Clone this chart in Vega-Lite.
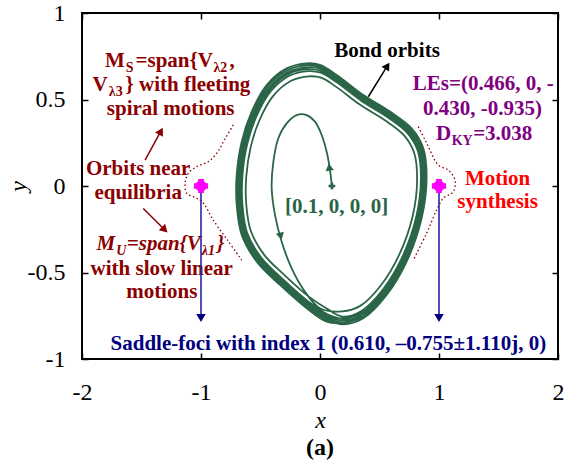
{
  "$schema": "https://vega.github.io/schema/vega-lite/v6.json",
  "width": 476,
  "height": 346,
  "autosize": {"type": "none"},
  "padding": {"left": 82, "top": 13, "right": 7, "bottom": 107},
  "background": "white",
  "title": {"text": "(a)", "orient": "bottom", "font": "Liberation Serif", "fontSize": 24, "fontWeight": "bold", "color": "black", "anchor": "middle", "offset": 4},
  "config": {
    "view": {"stroke": "black", "strokeWidth": 2},
    "axis": {
      "grid": false, "domain": false, "ticks": true, "tickColor": "black", "tickWidth": 1.5, "tickSize": -6,
      "labelFont": "Liberation Serif", "labelFontSize": 24, "labelColor": "black", "labelFlush": false, "labelOverlap": false,
      "titleFont": "Liberation Serif", "titleFontSize": 24, "titleFontWeight": "normal", "titleFontStyle": "italic", "titleColor": "black"
    },
    "text": {"font": "Liberation Serif", "fontWeight": "bold", "fontSize": 21, "baseline": "alphabetic"}
  },
  "datasets": {
    "orbit": [
      {"i": 0, "x": 0.1, "y": 0.0}, {"i": 1, "x": 0.09, "y": 0.06}, {"i": 2, "x": 0.078, "y": 0.121}, {"i": 3, "x": 0.056, "y": 0.198},
      {"i": 4, "x": 0.014, "y": 0.295}, {"i": 5, "x": -0.042, "y": 0.372}, {"i": 6, "x": -0.112, "y": 0.41}, {"i": 7, "x": -0.196, "y": 0.41},
      {"i": 8, "x": -0.28, "y": 0.362}, {"i": 9, "x": -0.35, "y": 0.276}, {"i": 10, "x": -0.392, "y": 0.14}, {"i": 11, "x": -0.406, "y": -0.013},
      {"i": 12, "x": -0.378, "y": -0.168}, {"i": 13, "x": -0.322, "y": -0.322}, {"i": 14, "x": -0.238, "y": -0.476}, {"i": 15, "x": -0.126, "y": -0.611},
      {"i": 16, "x": 0.0, "y": -0.707},
      {"i": 17, "x": 0.186, "y": -0.725}, {"i": 18, "x": 0.338, "y": -0.693}, {"i": 19, "x": 0.514, "y": -0.572}, {"i": 20, "x": 0.665, "y": -0.398},
      {"i": 21, "x": 0.779, "y": -0.173}, {"i": 22, "x": 0.816, "y": 0.036}, {"i": 23, "x": 0.791, "y": 0.192}, {"i": 24, "x": 0.703, "y": 0.295},
      {"i": 25, "x": 0.539, "y": 0.383}, {"i": 26, "x": 0.338, "y": 0.469}, {"i": 27, "x": 0.136, "y": 0.573}, {"i": 28, "x": 0.01, "y": 0.626},
      {"i": 29, "x": -0.091, "y": 0.634}, {"i": 30, "x": -0.242, "y": 0.608}, {"i": 31, "x": -0.393, "y": 0.521}, {"i": 32, "x": -0.507, "y": 0.383},
      {"i": 33, "x": -0.582, "y": 0.226}, {"i": 34, "x": -0.62, "y": 0.053}, {"i": 35, "x": -0.62, "y": -0.104}, {"i": 36, "x": -0.582, "y": -0.259},
      {"i": 37, "x": -0.469, "y": -0.398}, {"i": 38, "x": -0.292, "y": -0.519}, {"i": 39, "x": -0.091, "y": -0.641}, {"i": 40, "x": 0.06, "y": -0.71},
      {"i": 41, "x": 0.19, "y": -0.755}, {"i": 42, "x": 0.348, "y": -0.722}, {"i": 43, "x": 0.532, "y": -0.595}, {"i": 44, "x": 0.69, "y": -0.413},
      {"i": 45, "x": 0.809, "y": -0.178}, {"i": 46, "x": 0.848, "y": 0.04}, {"i": 47, "x": 0.822, "y": 0.202}, {"i": 48, "x": 0.73, "y": 0.31},
      {"i": 49, "x": 0.559, "y": 0.402}, {"i": 50, "x": 0.348, "y": 0.492}, {"i": 51, "x": 0.138, "y": 0.601}, {"i": 52, "x": 0.006, "y": 0.655},
      {"i": 53, "x": -0.099, "y": 0.664}, {"i": 54, "x": -0.257, "y": 0.637}, {"i": 55, "x": -0.415, "y": 0.546}, {"i": 56, "x": -0.534, "y": 0.402},
      {"i": 57, "x": -0.613, "y": 0.238}, {"i": 58, "x": -0.652, "y": 0.057}, {"i": 59, "x": -0.652, "y": -0.106}, {"i": 60, "x": -0.613, "y": -0.269},
      {"i": 61, "x": -0.494, "y": -0.413}, {"i": 62, "x": -0.31, "y": -0.54}, {"i": 63, "x": -0.099, "y": -0.667}, {"i": 64, "x": 0.059, "y": -0.74},
      {"i": 65, "x": 0.192, "y": -0.766}, {"i": 66, "x": 0.352, "y": -0.733}, {"i": 67, "x": 0.539, "y": -0.604}, {"i": 68, "x": 0.7, "y": -0.419},
      {"i": 69, "x": 0.82, "y": -0.181}, {"i": 70, "x": 0.86, "y": 0.041}, {"i": 71, "x": 0.834, "y": 0.206}, {"i": 72, "x": 0.74, "y": 0.316},
      {"i": 73, "x": 0.566, "y": 0.409}, {"i": 74, "x": 0.352, "y": 0.5}, {"i": 75, "x": 0.139, "y": 0.611}, {"i": 76, "x": 0.005, "y": 0.667},
      {"i": 77, "x": -0.103, "y": 0.675}, {"i": 78, "x": -0.263, "y": 0.648}, {"i": 79, "x": -0.424, "y": 0.556}, {"i": 80, "x": -0.544, "y": 0.409},
      {"i": 81, "x": -0.624, "y": 0.243}, {"i": 82, "x": -0.664, "y": 0.059}, {"i": 83, "x": -0.664, "y": -0.107}, {"i": 84, "x": -0.624, "y": -0.273},
      {"i": 85, "x": -0.504, "y": -0.419}, {"i": 86, "x": -0.317, "y": -0.548}, {"i": 87, "x": -0.103, "y": -0.677}, {"i": 88, "x": 0.058, "y": -0.751},
      {"i": 89, "x": 0.193, "y": -0.777}, {"i": 90, "x": 0.356, "y": -0.743}, {"i": 91, "x": 0.546, "y": -0.612}, {"i": 92, "x": 0.709, "y": -0.425},
      {"i": 93, "x": 0.831, "y": -0.183}, {"i": 94, "x": 0.872, "y": 0.042}, {"i": 95, "x": 0.845, "y": 0.21}, {"i": 96, "x": 0.75, "y": 0.322},
      {"i": 97, "x": 0.573, "y": 0.416}, {"i": 98, "x": 0.356, "y": 0.509}, {"i": 99, "x": 0.139, "y": 0.621}, {"i": 100, "x": 0.003, "y": 0.678},
      {"i": 101, "x": -0.106, "y": 0.686}, {"i": 102, "x": -0.269, "y": 0.658}, {"i": 103, "x": -0.432, "y": 0.565}, {"i": 104, "x": -0.554, "y": 0.416},
      {"i": 105, "x": -0.635, "y": 0.247}, {"i": 106, "x": -0.676, "y": 0.061}, {"i": 107, "x": -0.676, "y": -0.108}, {"i": 108, "x": -0.635, "y": -0.276},
      {"i": 109, "x": -0.513, "y": -0.425}, {"i": 110, "x": -0.323, "y": -0.556}, {"i": 111, "x": -0.106, "y": -0.687}, {"i": 112, "x": 0.057, "y": -0.762},
      {"i": 113, "x": 0.195, "y": -0.789}, {"i": 114, "x": 0.36, "y": -0.754}, {"i": 115, "x": 0.553, "y": -0.621}, {"i": 116, "x": 0.719, "y": -0.431},
      {"i": 117, "x": 0.843, "y": -0.185}, {"i": 118, "x": 0.884, "y": 0.044}, {"i": 119, "x": 0.857, "y": 0.214}, {"i": 120, "x": 0.76, "y": 0.328},
      {"i": 121, "x": 0.581, "y": 0.423}, {"i": 122, "x": 0.36, "y": 0.518}, {"i": 123, "x": 0.14, "y": 0.632}, {"i": 124, "x": 0.002, "y": 0.689},
      {"i": 125, "x": -0.109, "y": 0.698}, {"i": 126, "x": -0.275, "y": 0.669}, {"i": 127, "x": -0.44, "y": 0.575}, {"i": 128, "x": -0.564, "y": 0.423},
      {"i": 129, "x": -0.647, "y": 0.252}, {"i": 130, "x": -0.688, "y": 0.063}, {"i": 131, "x": -0.688, "y": -0.109}, {"i": 132, "x": -0.647, "y": -0.28},
      {"i": 133, "x": -0.523, "y": -0.431}, {"i": 134, "x": -0.33, "y": -0.564}, {"i": 135, "x": -0.109, "y": -0.697}, {"i": 136, "x": 0.057, "y": -0.773},
      {"i": 137, "x": 0.196, "y": -0.8}, {"i": 138, "x": 0.364, "y": -0.765}, {"i": 139, "x": 0.56, "y": -0.63}, {"i": 140, "x": 0.728, "y": -0.437},
      {"i": 141, "x": 0.854, "y": -0.187}, {"i": 142, "x": 0.896, "y": 0.045}, {"i": 143, "x": 0.868, "y": 0.218}, {"i": 144, "x": 0.77, "y": 0.333},
      {"i": 145, "x": 0.588, "y": 0.43}, {"i": 146, "x": 0.364, "y": 0.526}, {"i": 147, "x": 0.14, "y": 0.642}, {"i": 148, "x": 0.0, "y": 0.7},
      {"i": 149, "x": -0.112, "y": 0.709}, {"i": 150, "x": -0.28, "y": 0.68}, {"i": 151, "x": -0.448, "y": 0.584}, {"i": 152, "x": -0.574, "y": 0.43},
      {"i": 153, "x": -0.658, "y": 0.256}, {"i": 154, "x": -0.7, "y": 0.064}, {"i": 155, "x": -0.7, "y": -0.11}, {"i": 156, "x": -0.658, "y": -0.283},
      {"i": 157, "x": -0.532, "y": -0.437}, {"i": 158, "x": -0.336, "y": -0.572}, {"i": 159, "x": -0.112, "y": -0.707}, {"i": 160, "x": 0.056, "y": -0.784},
      {"i": 161, "x": 0.19, "y": -0.79}, {"i": 162, "x": 0.35, "y": -0.75}
    ],
    "bounds": [
      {"side": "L", "i": 0, "x": -0.729, "y": 0.353}, {"side": "L", "i": 1, "x": -0.8, "y": 0.27}, {"side": "L", "i": 2, "x": -0.868, "y": 0.189},
      {"side": "L", "i": 3, "x": -0.94, "y": 0.14}, {"side": "L", "i": 4, "x": -1.036, "y": 0.112}, {"side": "L", "i": 5, "x": -1.107, "y": 0.073},
      {"side": "L", "i": 6, "x": -1.134, "y": 0.016}, {"side": "L", "i": 7, "x": -1.12, "y": -0.042}, {"side": "L", "i": 8, "x": -1.036, "y": -0.071},
      {"side": "L", "i": 9, "x": -0.98, "y": -0.1}, {"side": "L", "i": 10, "x": -0.897, "y": -0.197}, {"side": "L", "i": 11, "x": -0.78, "y": -0.31},
      {"side": "L", "i": 12, "x": -0.658, "y": -0.428},
      {"side": "R", "i": 0, "x": 0.826, "y": 0.343}, {"side": "R", "i": 1, "x": 0.88, "y": 0.27}, {"side": "R", "i": 2, "x": 0.924, "y": 0.208},
      {"side": "R", "i": 3, "x": 0.994, "y": 0.121}, {"side": "R", "i": 4, "x": 1.078, "y": 0.092}, {"side": "R", "i": 5, "x": 1.134, "y": 0.035},
      {"side": "R", "i": 6, "x": 1.12, "y": -0.033}, {"side": "R", "i": 7, "x": 1.036, "y": -0.071}, {"side": "R", "i": 8, "x": 0.98, "y": -0.139},
      {"side": "R", "i": 9, "x": 0.896, "y": -0.273}, {"side": "R", "i": 10, "x": 0.784, "y": -0.428}
    ],
    "equilibria": [{"x": -1, "y": 0}, {"x": 1, "y": 0}]
  },
  "layer": [
    {
      "data": {"name": "orbit"},
      "mark": {"type": "line", "color": "#2a6547", "strokeWidth": 1.8, "interpolate": "catmull-rom"},
      "encoding": {
        "x": {"field": "x", "type": "quantitative", "scale": {"domain": [-2, 2], "nice": false, "zero": false},
              "axis": {"orient": "bottom", "values": [-2, -1, 0, 1, 2], "title": "x", "labelPadding": 27, "titlePadding": 4,
                       "labelExpr": "datum.value < 0 ? '-' + (-datum.value) : '' + datum.value"}},
        "y": {"field": "y", "type": "quantitative", "scale": {"domain": [-1, 1], "nice": false, "zero": false},
              "axis": {"orient": "left", "values": [-1, -0.5, 0, 0.5, 1], "title": "y", "labelPadding": 23, "titlePadding": -3,
                       "labelExpr": "datum.value < 0 ? '-' + (-datum.value) : '' + datum.value"}},
        "order": {"field": "i", "type": "quantitative"}
      }
    },
    {
      "data": {"name": "bounds"},
      "mark": {"type": "line", "color": "#8b0000", "strokeWidth": 1.3, "strokeDash": [1.5, 2.5], "interpolate": "catmull-rom"},
      "encoding": {
        "x": {"field": "x", "type": "quantitative", "scale": {"domain": [-2, 2], "nice": false, "zero": false},
              "axis": {"orient": "top", "values": [-2, -1, 0, 1, 2], "labels": false, "title": null}},
        "y": {"field": "y", "type": "quantitative", "scale": {"domain": [-1, 1], "nice": false, "zero": false},
              "axis": {"orient": "right", "values": [-1, -0.5, 0, 0.5, 1], "labels": false, "title": null}},
        "detail": {"field": "side"},
        "order": {"field": "i", "type": "quantitative"}
      }
    },
    {
      "data": {"values": [{"x": 0.1, "y": 0}]},
      "mark": {"type": "point", "shape": "cross", "filled": true, "size": 45, "color": "#2a6547", "opacity": 1},
      "encoding": {
        "x": {"field": "x", "type": "quantitative", "axis": null},
        "y": {"field": "y", "type": "quantitative", "axis": null}
      }
    },
    {
      "data": {"values": [{"x": 0.078, "y": 0.11}]},
      "mark": {"type": "point", "shape": "triangle-up", "filled": true, "size": 70, "angle": -8, "color": "#2a6547", "opacity": 1},
      "encoding": {
        "x": {"field": "x", "type": "quantitative", "axis": null},
        "y": {"field": "y", "type": "quantitative", "axis": null}
      }
    },
    {
      "data": {"values": [{"x": -0.33, "y": -0.29}]},
      "mark": {"type": "point", "shape": "triangle-up", "filled": true, "size": 70, "angle": 166, "color": "#2a6547", "opacity": 1},
      "encoding": {
        "x": {"field": "x", "type": "quantitative", "axis": null},
        "y": {"field": "y", "type": "quantitative", "axis": null}
      }
    },
    {
      "data": {"values": [{"x": 0.406, "y": 0.516, "x2": 0.566, "y2": 0.694}]},
      "mark": {"type": "rule", "color": "black", "strokeWidth": 1.5},
      "encoding": {
        "x": {"field": "x", "type": "quantitative", "axis": null}, "y": {"field": "y", "type": "quantitative", "axis": null},
        "x2": {"field": "x2"}, "y2": {"field": "y2"}
      }
    },
    {
      "data": {"values": [{"x": 0.566, "y": 0.694}]},
      "mark": {"type": "point", "shape": "triangle-up", "filled": true, "size": 80, "angle": 32, "color": "black", "opacity": 1},
      "encoding": {
        "x": {"field": "x", "type": "quantitative", "axis": null},
        "y": {"field": "y", "type": "quantitative", "axis": null}
      }
    },
    {
      "data": {"values": [{"x": -1.47, "y": 0.15, "x2": -1.337, "y2": 0.317}, {"x": -1.485, "y": -0.13, "x2": -1.305, "y2": -0.253}]},
      "mark": {"type": "rule", "color": "#8b0000", "strokeWidth": 1.5},
      "encoding": {
        "x": {"field": "x", "type": "quantitative", "axis": null}, "y": {"field": "y", "type": "quantitative", "axis": null},
        "x2": {"field": "x2"}, "y2": {"field": "y2"}
      }
    },
    {
      "data": {"values": [{"x": -1.337, "y": 0.317}]},
      "mark": {"type": "point", "shape": "triangle-up", "filled": true, "size": 80, "angle": 29, "color": "#8b0000", "opacity": 1},
      "encoding": {
        "x": {"field": "x", "type": "quantitative", "axis": null},
        "y": {"field": "y", "type": "quantitative", "axis": null}
      }
    },
    {
      "data": {"values": [{"x": -1.305, "y": -0.253}]},
      "mark": {"type": "point", "shape": "triangle-up", "filled": true, "size": 80, "angle": 135, "color": "#8b0000", "opacity": 1},
      "encoding": {
        "x": {"field": "x", "type": "quantitative", "axis": null},
        "y": {"field": "y", "type": "quantitative", "axis": null}
      }
    },
    {
      "data": {"values": [
        {"x": -1.255, "y": 0.41, "t": "spiral motions"},
        {"x": -1.528, "y": 0.064, "t": "Orbits near"},
        {"x": -1.528, "y": -0.077, "t": "equilibria"},
        {"x": -1.33, "y": -0.514, "t": "with slow linear"},
        {"x": -1.33, "y": -0.649, "t": "motions"}
      ]},
      "mark": {"type": "text", "color": "#8b0000", "align": "center"},
      "encoding": {
        "x": {"field": "x", "type": "quantitative", "axis": null}, "y": {"field": "y", "type": "quantitative", "axis": null},
        "text": {"field": "t"}
      }
    },
    {
      "data": {"values": [
        {"x": -1.807, "y": 0.69, "t": "M"},
        {"x": -1.55, "y": 0.69, "t": "=span{V"},
        {"x": -0.76, "y": 0.69, "t": ","},
        {"x": -1.911, "y": 0.55, "t": "V"},
        {"x": -1.635, "y": 0.55, "t": "} with fleeting"}
      ]},
      "mark": {"type": "text", "color": "#8b0000", "align": "left"},
      "encoding": {
        "x": {"field": "x", "type": "quantitative", "axis": null}, "y": {"field": "y", "type": "quantitative", "axis": null},
        "text": {"field": "t"}
      }
    },
    {
      "data": {"values": [
        {"x": -1.632, "y": 0.69, "t": "S"},
        {"x": -0.895, "y": 0.69, "t": "λ2"},
        {"x": -1.775, "y": 0.55, "t": "λ3"}
      ]},
      "mark": {"type": "text", "color": "#8b0000", "align": "left", "fontSize": 14, "dy": 5},
      "encoding": {
        "x": {"field": "x", "type": "quantitative", "axis": null}, "y": {"field": "y", "type": "quantitative", "axis": null},
        "text": {"field": "t"}
      }
    },
    {
      "data": {"values": [
        {"x": -1.879, "y": -0.37, "t": "M"},
        {"x": -1.624, "y": -0.37, "t": "=span{V"},
        {"x": -0.866, "y": -0.37, "t": "}"}
      ]},
      "mark": {"type": "text", "color": "#8b0000", "align": "left", "fontStyle": "italic"},
      "encoding": {
        "x": {"field": "x", "type": "quantitative", "axis": null}, "y": {"field": "y", "type": "quantitative", "axis": null},
        "text": {"field": "t"}
      }
    },
    {
      "data": {"values": [
        {"x": -1.713, "y": -0.37, "t": "U"},
        {"x": -0.993, "y": -0.37, "t": "λ1"}
      ]},
      "mark": {"type": "text", "color": "#8b0000", "align": "left", "fontStyle": "italic", "fontSize": 14, "dy": 5},
      "encoding": {
        "x": {"field": "x", "type": "quantitative", "axis": null}, "y": {"field": "y", "type": "quantitative", "axis": null},
        "text": {"field": "t"}
      }
    },
    {
      "data": {"values": [
        {"x": 1.372, "y": 0.555, "t": "LEs=(0.466, 0, -"},
        {"x": 1.365, "y": 0.41, "t": "0.430, -0.935)"}
      ]},
      "mark": {"type": "text", "color": "#800080", "align": "center"},
      "encoding": {
        "x": {"field": "x", "type": "quantitative", "axis": null}, "y": {"field": "y", "type": "quantitative", "axis": null},
        "text": {"field": "t"}
      }
    },
    {
      "data": {"values": [
        {"x": 0.975, "y": 0.266, "t": "D"},
        {"x": 1.287, "y": 0.266, "t": "=3.038"}
      ]},
      "mark": {"type": "text", "color": "#800080", "align": "left"},
      "encoding": {
        "x": {"field": "x", "type": "quantitative", "axis": null}, "y": {"field": "y", "type": "quantitative", "axis": null},
        "text": {"field": "t"}
      }
    },
    {
      "data": {"values": [{"x": 1.107, "y": 0.266, "t": "KY"}]},
      "mark": {"type": "text", "color": "#800080", "align": "left", "fontSize": 14, "dy": 5},
      "encoding": {
        "x": {"field": "x", "type": "quantitative", "axis": null}, "y": {"field": "y", "type": "quantitative", "axis": null},
        "text": {"field": "t"}
      }
    },
    {
      "data": {"values": [
        {"x": 1.492, "y": 0.006, "t": "Motion"},
        {"x": 1.492, "y": -0.125, "t": "synthesis"}
      ]},
      "mark": {"type": "text", "color": "#ff0000", "align": "center"},
      "encoding": {
        "x": {"field": "x", "type": "quantitative", "axis": null}, "y": {"field": "y", "type": "quantitative", "axis": null},
        "text": {"field": "t"}
      }
    },
    {
      "data": {"values": [{"x": 0.563, "y": 0.747, "t": "Bond orbits"}]},
      "mark": {"type": "text", "color": "black", "align": "center"},
      "encoding": {
        "x": {"field": "x", "type": "quantitative", "axis": null}, "y": {"field": "y", "type": "quantitative", "axis": null},
        "text": {"field": "t"}
      }
    },
    {
      "data": {"values": [{"x": 0.14, "y": -0.158, "t": "[0.1, 0, 0, 0]"}]},
      "mark": {"type": "text", "color": "#2a6547", "align": "center"},
      "encoding": {
        "x": {"field": "x", "type": "quantitative", "axis": null}, "y": {"field": "y", "type": "quantitative", "axis": null},
        "text": {"field": "t"}
      }
    },
    {
      "data": {"values": [{"x": 0.07, "y": -0.948, "t": "Saddle-foci with index 1 (0.610, –0.755±1.110j, 0)"}]},
      "mark": {"type": "text", "color": "#000080", "align": "center"},
      "encoding": {
        "x": {"field": "x", "type": "quantitative", "axis": null}, "y": {"field": "y", "type": "quantitative", "axis": null},
        "text": {"field": "t"}
      }
    },
    {
      "data": {"values": [{"x": -1, "y": 0, "x2": -1, "y2": -0.763}, {"x": 1, "y": 0, "x2": 1, "y2": -0.763}]},
      "mark": {"type": "rule", "color": "#2626a0", "strokeWidth": 1.6},
      "encoding": {
        "x": {"field": "x", "type": "quantitative", "axis": null}, "y": {"field": "y", "type": "quantitative", "axis": null},
        "x2": {"field": "x2"}, "y2": {"field": "y2"}
      }
    },
    {
      "data": {"values": [{"x": -1, "y": -0.763}, {"x": 1, "y": -0.763}]},
      "mark": {"type": "point", "shape": "triangle-up", "filled": true, "size": 90, "angle": 180, "color": "#000080", "opacity": 1},
      "encoding": {
        "x": {"field": "x", "type": "quantitative", "axis": null},
        "y": {"field": "y", "type": "quantitative", "axis": null}
      }
    },
    {
      "data": {"name": "equilibria"},
      "mark": {"type": "point", "shape": "cross", "filled": true, "size": 200, "color": "#ff00ff", "opacity": 1},
      "encoding": {
        "x": {"field": "x", "type": "quantitative", "axis": null},
        "y": {"field": "y", "type": "quantitative", "axis": null}
      }
    },
    {
      "data": {"name": "equilibria"},
      "mark": {"type": "point", "shape": "circle", "filled": true, "size": 130, "color": "#ff00ff", "opacity": 1},
      "encoding": {
        "x": {"field": "x", "type": "quantitative", "axis": null},
        "y": {"field": "y", "type": "quantitative", "axis": null}
      }
    }
  ],
  "resolve": {"axis": {"x": "independent", "y": "independent"}}
}
